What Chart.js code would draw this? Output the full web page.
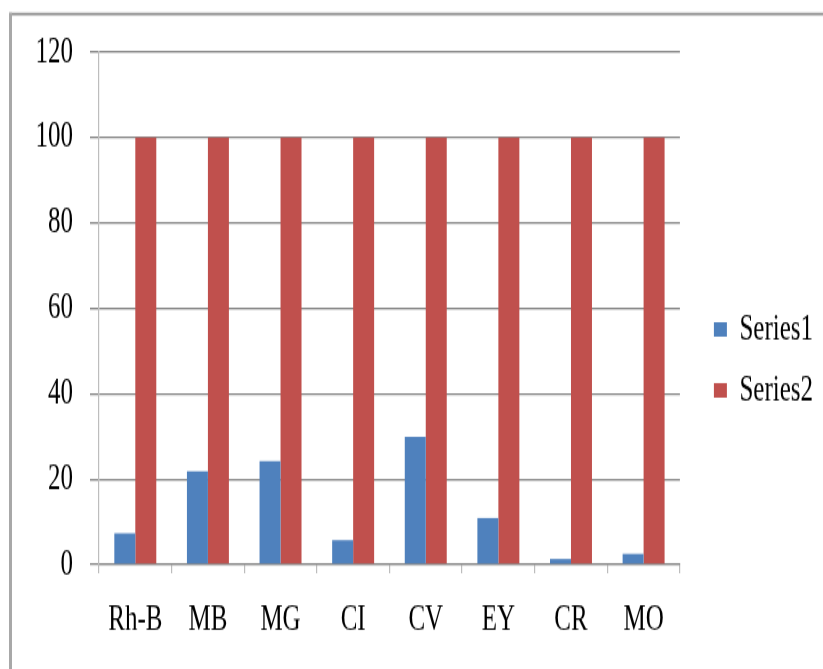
<!DOCTYPE html>
<html>
<head>
<meta charset="utf-8">
<script src="https://cdn.jsdelivr.net/npm/chart.js@4"></script>
<style>
  html, body { margin: 0; padding: 0; background: #fff; overflow: hidden; }
  #wrap { width: 823px; height: 669px; overflow: hidden; }
  #c { display: block; transform-origin: 0 0; transform: scaleY(1.4512); }
</style>
</head>
<body>
<div id="wrap"><canvas id="c" width="823" height="461"></canvas></div>
<script>
const categories = ['Rh-B', 'MB', 'MG', 'CI', 'CV', 'EY', 'CR', 'MO'];
const series1 = [7.3, 21.8, 24.2, 5.7, 29.9, 10.9, 1.3, 2.5];
const series2 = [100, 100, 100, 100, 100, 100, 100, 100];
const seriesNames = ['Series1', 'Series2'];
const yTicks = [0, 20, 40, 60, 80, 100, 120];

const FONT = "'Liberation Serif', 'Times New Roman', serif";

const framePlugin = {
  id: 'frame',
  beforeDraw(chart) {
    const c = chart.ctx;
    c.save();
    c.fillStyle = '#ffffff';
    c.fillRect(0, 0, chart.width, chart.height);
    c.strokeStyle = '#8a8a8a';
    c.lineWidth = 1.9;
    c.beginPath();
    c.moveTo(9, 9.6);
    c.lineTo(chart.width, 9.6);
    c.stroke();
    c.strokeStyle = '#a8a8a8';
    c.lineWidth = 3;
    c.beginPath();
    c.moveTo(10.5, 8.7);
    c.lineTo(10.5, chart.height);
    c.stroke();
    c.restore();
  }
};

new Chart(document.getElementById('c'), {
  type: 'bar',
  data: {
    labels: categories,
    datasets: [
      { label: seriesNames[0], data: series1, backgroundColor: '#4F81BD', borderWidth: 0, yAxisID: 'y' },
      { label: seriesNames[1], data: series2, backgroundColor: '#C0504D', borderWidth: 0, yAxisID: 'y' }
    ]
  },
  options: {
    responsive: false,
    animation: false,
    devicePixelRatio: 1,
    categoryPercentage: 0.578,
    barPercentage: 1.0,
    layout: { padding: { left: 18, right: 0, top: 36, bottom: 1 } },
    plugins: {
      legend: {
        position: 'right',
        align: 'center',
        labels: {
          boxWidth: 13,
          boxHeight: 10,
          padding: 17,
          color: '#000',
          font: { family: FONT, size: 25 }
        }
      },
      tooltip: { enabled: false },
      title: { display: false }
    },
    scales: {
      x: {
        grid: {
          offset: true,
          drawOnChartArea: false,
          drawTicks: true,
          tickLength: 6,
          color: '#bdbdbd',
          lineWidth: 1.2
        },
        border: { display: true, color: '#868686', width: 1.3 },
        ticks: {
          color: '#000',
          padding: 17.5,
          font: { family: FONT, size: 25 }
        }
      },
      y: {
        position: 'left',
        min: 0,
        max: 120,
        afterBuildTicks(axis) { axis.ticks = yTicks.map(v => ({ value: v })); },
        afterFit(axis) { axis.width = 81; },
        grid: {
          drawTicks: true,
          tickLength: 9,
          color: '#868686',
          lineWidth: 1.3
        },
        border: { display: true, color: '#bdbdbd', width: 1.2 },
        ticks: {
          color: '#000',
          padding: 17,
          font: { family: FONT, size: 25 }
        }
      },
      gap: {
        type: 'linear',
        axis: 'y',
        position: 'right',
        display: true,
        afterFit(axis) { axis.width = 17; },
        grid: { display: false, drawTicks: false },
        border: { display: false },
        ticks: { display: false }
      }
    }
  },
  plugins: [framePlugin]
});
</script>
</body>
</html>
